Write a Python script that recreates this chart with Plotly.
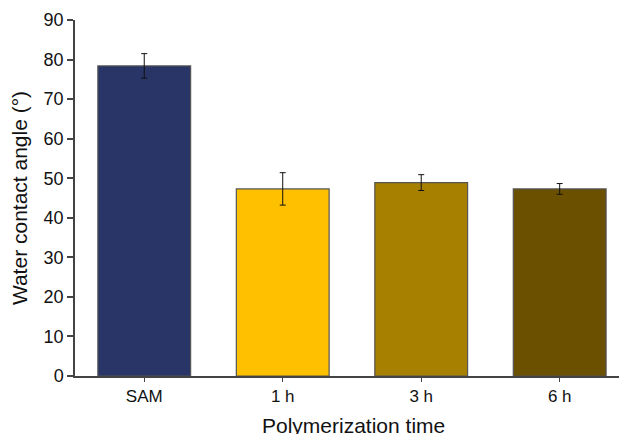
import plotly.graph_objects as go

categories = ["SAM", "1 h", "3 h", "6 h"]
contact_angle = [78.4, 47.3, 48.9, 47.3]
error = [3.1, 4.1, 2.0, 1.35]
bar_colors = ["#283566", "#FFC000", "#A88000", "#6B5000"]
y_ticks = [0, 10, 20, 30, 40, 50, 60, 70, 80, 90]
x_title = "Polymerization time"
y_title = "Water contact angle (°)"

fig = go.Figure(go.Bar(
    x=categories, y=contact_angle,
    marker=dict(color=bar_colors, line=dict(color="#555555", width=1.2)),
    error_y=dict(type="data", array=error, color="#111111", thickness=1, width=3),
))

font = "Liberation Sans, Arial, sans-serif"
# page body has an 8px default margin, so the figure is sized to fit the 627x434 window
fig.update_layout(
    width=619, height=426,
    margin=dict(l=67, r=0, t=12, b=58, autoexpand=False),
    paper_bgcolor="white", plot_bgcolor="white",
    bargap=0.33, showlegend=False,
    font=dict(family=font, color="#111111"),
    annotations=[dict(
        text=x_title, xref="paper", yref="paper", x=0.505, y=-0.1,
        xanchor="center", yanchor="top", showarrow=False,
        font=dict(size=21, family=font, color="#111111"),
    )],
)
fig.update_xaxes(
    range=[-0.5, 3.486], showline=True, linecolor="#444444", linewidth=1.5,
    ticks="outside", ticklen=4, tickcolor="#444444", tickwidth=1,
    tickfont=dict(size=17, family=font, color="#111111"),
    showgrid=False, zeroline=False, automargin=False,
)
fig.update_yaxes(
    range=[0, 90], tickvals=y_ticks, showline=True, linecolor="#444444", linewidth=1.5,
    ticks="outside", ticklen=6, tickcolor="#444444", tickwidth=1.5,
    tickfont=dict(size=18, family=font, color="#111111"),
    title=dict(text=y_title, font=dict(size=21, family=font, color="#111111"), standoff=10),
    showgrid=False, zeroline=False, automargin=False,
)
fig.write_html("out.html")
